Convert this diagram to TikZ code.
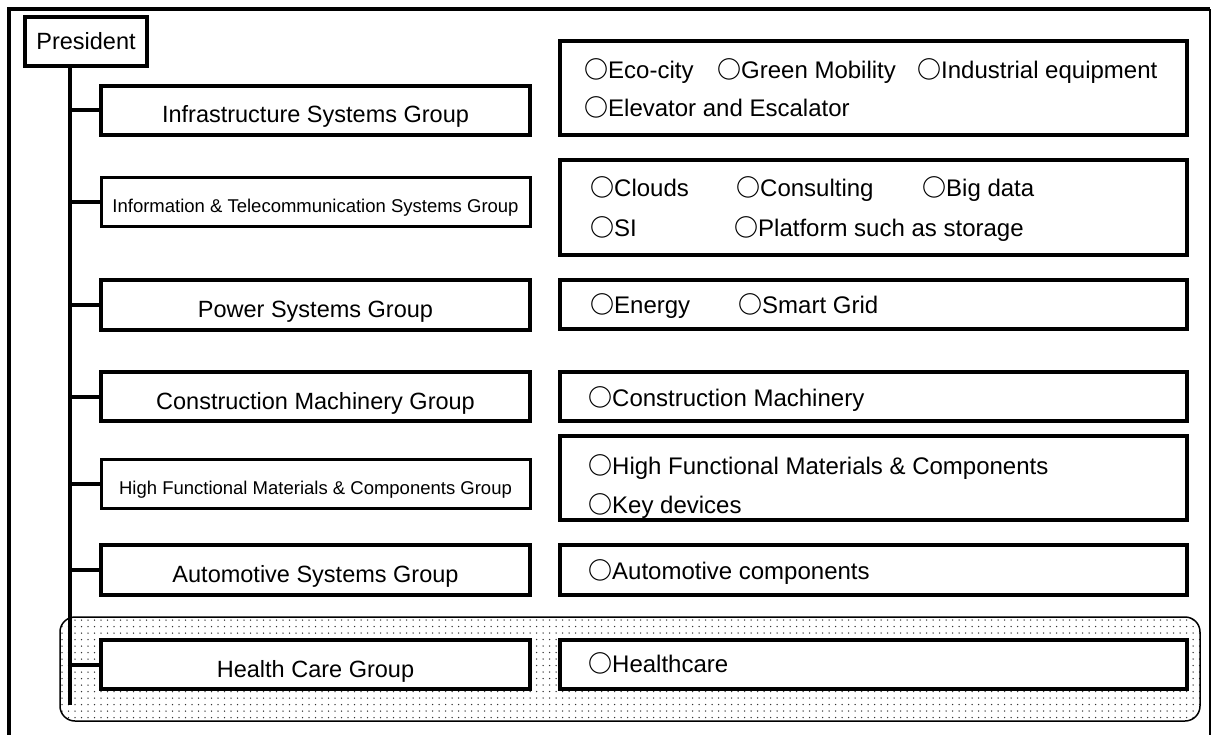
\documentclass[tikz,border=0pt]{standalone}
\usepackage{fontspec}
\setmainfont{Liberation Sans}
\newfontfamily\cjk{Noto Sans CJK JP}

\newcommand{\mk}{{\cjk\bfseries ○}}

\begin{document}
\begin{tikzpicture}[x=1pt, y=-1pt,
	grp/.style={draw, line width=4pt, fill=white, minimum width=429pt, minimum height=49pt, inner sep=0pt,
		text height=25pt, text depth=0pt, font=\fontsize{23.5}{28}\selectfont},
	grpsmall/.style={grp, line width=3pt, text height=21pt, font=\fontsize{18.5}{22}\selectfont},
	biz/.style={draw, line width=4pt, fill=white, minimum width=627pt, inner sep=0pt},
	item/.style={anchor=base west, inner sep=0pt, font=\fontsize{24}{28}\selectfont},
	link/.style={line width=4pt}]
	\useasboundingbox[fill=white] (0,0) rectangle (1215,735);

	% frame
	\draw[line width=4pt] (9,735) -- (9,9) -- (1210,9);
	\draw[line width=2pt] (1210,9) -- (1210,735);

	% new group
	\begin{scope}
		\clip[rounded corners=15pt] (60,617) rectangle (1200,721);
		\foreach \i in {0,...,175}
			\foreach \j in {0,...,15}
				\fill[black!80] (62+\i*6.5, 620+\j*6.5) circle (0.75pt);
	\end{scope}
	\draw[line width=1.5pt, rounded corners=15pt] (60,617) rectangle (1200,721);

	\node[draw, line width=4pt, fill=white, minimum width=122pt, minimum height=49pt, inner sep=0pt,
		text height=17pt, text depth=0pt, font=\fontsize{23.5}{28}\selectfont]
		(pres) at (86,41.5) {President};
	\coordinate (top) at (70,66);
	\coordinate (bot) at (70,705);
	\draw[link] (top) -- (bot);

	% groups
	\node[grp]      (infra) at (315.5,110.5) {Infrastructure Systems Group};
	\node[grpsmall] (ict)   at (315.5,202.5) {Information \& Telecommunication Systems Group};
	\node[grp, minimum height=50pt] (power) at (315.5,305) {Power Systems Group};
	\node[grp]      (cm)    at (315.5,396.5) {Construction Machinery Group};
	\node[grpsmall] (hfm)   at (315.5,483.5) {High Functional Materials \& Components Group};
	\node[grp, minimum height=50pt] (auto) at (315.5,570) {Automotive Systems Group};
	\node[grp]      (hc)    at (315.5,664.5) {Health Care Group};

	\foreach \g in {infra, ict, power, cm, hfm, auto, hc}
		\draw[link] (\g.west -| top) -- (\g.west);

	% businesses
	\node[biz, minimum height=94pt]  (infraB) at (873.5,88) {};
	\node[biz, minimum height=95pt]  (ictB)   at (873.5,207.5) {};
	\node[biz, minimum height=49pt]  (powerB) at (873.5,304.5) {};
	\node[biz, minimum height=49pt]  (cmB)    at (873.5,396.5) {};
	\node[biz, minimum height=84pt]  (hfmB)   at (873.5,478) {};
	\node[biz, minimum height=50pt]  (autoB)  at (873.5,570) {};
	\node[biz, minimum height=49pt]  (hcB)    at (873.5,664.5) {};

	\node[item] (eco)   at (584,78.5)  {\mk Eco-city};
	\node[item] (green) at (717,78.5)  {\mk Green Mobility};
	\node[item] (ind)   at (917,78.5)  {\mk Industrial equipment};
	\node[item] (elev)  at (584,116.5) {\mk Elevator and Escalator};

	\node[item] (cloud) at (590,196.5) {\mk Clouds};
	\node[item] (cons)  at (736,196.5) {\mk Consulting};
	\node[item] (big)   at (922,196.5) {\mk Big data};
	\node[item] (si)    at (590,236.5) {\mk SI};
	\node[item] (plat)  at (734,236.5) {\mk Platform such as storage};

	\node[item] (energy) at (590,313.5) {\mk Energy};
	\node[item] (grid)   at (738,313.5) {\mk Smart Grid};

	\node[item] (mach)  at (588,406.5) {\mk Construction Machinery};

	\node[item] (mat)   at (588,474.5) {\mk High Functional Materials \& Components};
	\node[item] (key)   at (588,513.5) {\mk Key devices};

	\node[item] (comp)  at (588,579.5) {\mk Automotive components};

	\node[item] (care)  at (588,672.5) {\mk Healthcare};
\end{tikzpicture}
\end{document}
